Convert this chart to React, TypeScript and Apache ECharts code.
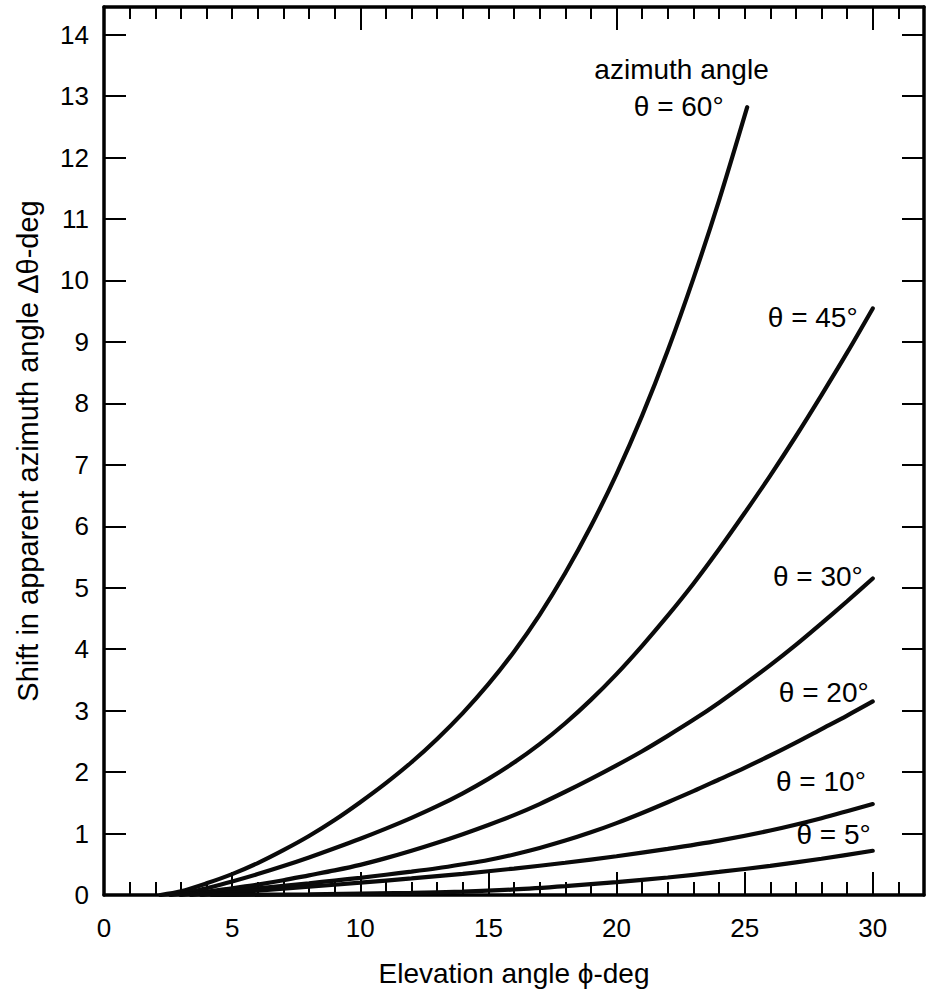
import React, { useEffect, useRef } from "react";
import * as echarts from "echarts";

// ---- data (x = elevation angle φ in deg, y = Δθ in deg) ----
const theta60 = [
  [2.2, 0], [3, 0.06], [4, 0.19], [5, 0.34], [6, 0.52], [7, 0.73], [8, 0.96], [9, 1.22],
  [10, 1.51], [11, 1.82], [12, 2.16], [13, 2.54], [14, 2.96], [15, 3.43], [16, 3.96],
  [17, 4.56], [18, 5.24], [19, 6.0], [20, 6.85], [21, 7.8], [22, 8.86], [23, 10.03],
  [24, 11.3], [25.1, 12.82],
];
const theta45 = [
  [2.6, 0], [3.4, 0.05], [4, 0.11], [5, 0.22], [6, 0.34], [7, 0.47], [8, 0.61], [9, 0.76],
  [10, 0.915], [11, 1.08], [12, 1.255], [13, 1.445], [14, 1.655], [15, 1.89], [16, 2.155],
  [17, 2.455], [18, 2.795], [19, 3.175], [20, 3.595], [21, 4.055], [22, 4.545], [23, 5.065],
  [24, 5.625], [25, 6.215], [26, 6.825], [27, 7.465], [28, 8.135], [29, 8.825], [30, 9.545],
];
const theta30 = [
  [3, 0], [4, 0.05], [5, 0.11], [6, 0.17], [7, 0.24], [8, 0.32], [9, 0.4], [10, 0.49],
  [11, 0.6], [12, 0.72], [13, 0.85], [14, 0.99], [15, 1.14], [16, 1.3], [17, 1.48],
  [18, 1.68], [19, 1.89], [20, 2.11], [21, 2.34], [22, 2.59], [23, 2.85], [24, 3.13],
  [25, 3.43], [26, 3.74], [27, 4.07], [28, 4.42], [29, 4.78], [30, 5.15],
];
const theta20 = [
  [3.4, 0], [4, 0.03], [5, 0.07], [6, 0.11], [7, 0.15], [8, 0.19], [9, 0.235], [10, 0.28],
  [11, 0.33], [12, 0.38], [13, 0.435], [14, 0.5], [15, 0.57], [16, 0.66], [17, 0.765],
  [18, 0.885], [19, 1.02], [20, 1.17], [21, 1.335], [22, 1.51], [23, 1.69], [24, 1.88],
  [25, 2.07], [26, 2.27], [27, 2.48], [28, 2.7], [29, 2.92], [30, 3.15],
];
const theta10 = [
  [3.8, 0], [5, 0.04], [6, 0.07], [8, 0.135], [10, 0.2], [12, 0.27], [14, 0.345],
  [16, 0.43], [18, 0.525], [20, 0.63], [22, 0.75], [24, 0.885], [26, 1.05], [28, 1.25],
  [30, 1.48],
];
const theta5 = [
  [4.2, 0], [8, 0.01], [12, 0.035], [14, 0.055], [16, 0.09], [18, 0.145], [20, 0.21],
  [22, 0.285], [24, 0.375], [26, 0.475], [28, 0.59], [30, 0.72],
];

const seriesData = [theta60, theta45, theta30, theta20, theta10, theta5];
const curveLabels = ["azimuth angle", "θ = 60°", "θ = 45°", "θ = 30°", "θ = 20°", "θ = 10°", "θ = 5°"];
const xTickLabels = [0, 5, 10, 15, 20, 25, 30];
const yTickLabels = [0, 1, 2, 3, 4, 5, 6, 7, 8, 9, 10, 11, 12, 13, 14];
const xTitle = "Elevation angle ϕ-deg";
const yTitle = "Shift in apparent azimuth angle Δθ-deg";

export default function App() {
  const ref = useRef<HTMLDivElement>(null);

  useEffect(() => {
    document.body.style.margin = "0";
    if (!ref.current) return;
    const chart = echarts.init(ref.current, null, { renderer: "svg" });
    const font = "'Liberation Sans', Arial, Helvetica, sans-serif";
    const black = "#000";
    const X_MIN = 0, X_MAX = 32, Y_MIN = 0, Y_MAX = 14.45;

    const baseX = {
      type: "value",
      min: X_MIN,
      max: X_MAX,
      splitLine: { show: false },
      axisPointer: { show: false },
    };
    const baseY = {
      type: "value",
      min: Y_MIN,
      max: Y_MAX,
      splitLine: { show: false },
      axisPointer: { show: false },
    };
    const lineStyle = { color: black, width: 3.5 };
    const tickStyle = { color: black, width: 2 };

    const option: any = {
      animation: false,
      backgroundColor: "#fff",
      grid: { left: 104, right: 8, top: 7, bottom: 97, containLabel: false },
      xAxis: [
        {
          ...baseX,
          position: "bottom",
          interval: 5,
          axisLine: { show: true, onZero: false, lineStyle },
          axisTick: { show: true, inside: true, length: 23, lineStyle: tickStyle },
          axisLabel: {
            show: true,
            margin: 20,
            fontSize: 26,
            color: black,
            fontFamily: font,
            formatter: (v: number) => (xTickLabels.includes(v) ? String(v) : ""),
          },
          name: xTitle,
          nameLocation: "middle",
          nameGap: 64,
          nameTextStyle: { fontSize: 28, color: black, fontFamily: font },
        },
        {
          ...baseX,
          position: "bottom",
          interval: 1,
          axisLine: { show: false, onZero: false },
          axisTick: { show: true, inside: true, length: 13, lineStyle: tickStyle },
          axisLabel: { show: false },
        },
        {
          ...baseX,
          position: "top",
          interval: 1,
          axisLine: { show: true, onZero: false, lineStyle },
          axisTick: { show: true, inside: true, length: 12, lineStyle: tickStyle },
          axisLabel: { show: false },
        },
        {
          ...baseX,
          position: "top",
          interval: 10,
          axisLine: { show: false, onZero: false },
          axisTick: { show: true, inside: true, length: 23, lineStyle: tickStyle },
          axisLabel: { show: false },
        },
      ],
      yAxis: [
        {
          ...baseY,
          position: "left",
          interval: 1,
          axisLine: { show: true, onZero: false, lineStyle },
          axisTick: { show: true, inside: true, length: 22, lineStyle: tickStyle },
          axisLabel: {
            show: true,
            margin: 15,
            fontSize: 26,
            color: black,
            fontFamily: font,
            formatter: (v: number) => (yTickLabels.includes(v) ? String(v) : ""),
          },
          name: yTitle,
          nameLocation: "middle",
          nameGap: 62,
          nameTextStyle: { fontSize: 29, color: black, fontFamily: font },
        },
        {
          ...baseY,
          position: "right",
          interval: 1,
          axisLine: { show: true, onZero: false, lineStyle },
          axisTick: { show: true, inside: true, length: 22, lineStyle: tickStyle },
          axisLabel: { show: false },
        },
      ],
      series: seriesData.map((d, i) => ({
        type: "line",
        name: curveLabels[i + 1],
        xAxisIndex: 0,
        yAxisIndex: 0,
        data: d,
        smooth: 0.3,
        showSymbol: false,
        symbol: "none",
        clip: true,
        lineStyle: { color: "#0a0a0a", width: 4.2, cap: "round" },
        z: 3,
      })),
    };
    chart.setOption(option);

    // curve annotations, anchored (right edge, vertical middle) in data coordinates
    const anchors = [
      [25.94, 13.43],
      [24.18, 12.83],
      [29.41, 9.4],
      [29.61, 5.18],
      [29.84, 3.29],
      [29.73, 1.84],
      [29.92, 0.98],
    ];
    const graphic = curveLabels.map((text, i) => {
      const p = chart.convertToPixel({ seriesIndex: 0 }, anchors[i]) as number[];
      return {
        type: "text",
        x: p[0],
        y: p[1],
        z: 10,
        style: {
          text,
          fill: black,
          fontSize: 28,
          fontFamily: font,
          align: "right",
          verticalAlign: "middle",
        },
      };
    });
    chart.setOption({ graphic });

    return () => {
      chart.dispose();
    };
  }, []);

  return <div ref={ref} style={{ width: 932, height: 992 }} />;
}
